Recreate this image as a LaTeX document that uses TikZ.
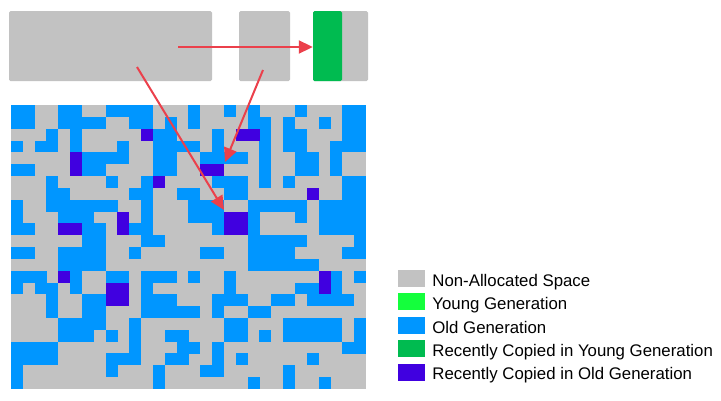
\documentclass[tikz,border=0pt]{standalone}
\usepackage{fontspec}
\setmainfont{Liberation Sans}
\usepackage{tikz}
\usetikzlibrary{arrows.meta}
\usetikzlibrary{positioning}
\definecolor{freegray}{RGB}{194,194,194}
\definecolor{youngcol}{RGB}{20,255,60}
\definecolor{oldcol}{RGB}{0,150,255}
\definecolor{copyyoung}{RGB}{0,187,80}
\definecolor{copyold}{RGB}{64,0,224}
\definecolor{arrowred}{RGB}{235,64,75}
% one heap cell: colour, column, row
\newcommand{\heapcell}[3]{\fill[#1] (11+#2*11.833,105+#3*11.833) rectangle ++(11.9,11.9);}

\begin{document}
\begin{tikzpicture}[x=1pt,y=-1pt]
\tikzset{>={Triangle[width=13pt,length=14pt]}}
\tikzstyle{block}=[rectangle, fill=freegray, rounded corners=1.5pt, inner sep=0pt, minimum height=70pt]
\tikzstyle{legbox}=[rectangle, inner sep=0pt, minimum width=27pt, minimum height=17pt]
\tikzstyle{legtext}=[anchor=base west, inner sep=0pt, font=\fontsize{16.8}{20}\selectfont]
\tikzstyle{redline}=[->, draw=arrowred, fill=arrowred, line width=2pt]
\useasboundingbox (0,0) rectangle (721,400);

% top blocks
\node[block, minimum width=203pt](b1) at (110.5,46){};
\node[block, minimum width=51pt](b2) at (264.5,46){};
\node[block, minimum width=55pt](b3) at (340.5,46){};
\node[block, fill=copyyoung, minimum width=29pt](y3) at (327.5,46){};

% heap
\fill[freegray] (11,105) rectangle (366,389);
\foreach \c in {0,1,4,5,8,9,10,11,15,18,20,24,28,29} {\heapcell{oldcol}{\c}{0}}
\foreach \c in {0,1,4,5,6,7,10,11,13,15,20,21,23,26,28,29} {\heapcell{oldcol}{\c}{1}}
\foreach \c in {3,5,12,13,17,21,23,24,28,29} {\heapcell{oldcol}{\c}{2}}
\foreach \c in {0,2,3,5,9,12,13,14,15,17,21,23,24,27,28,29} {\heapcell{oldcol}{\c}{3}}
\foreach \c in {6,7,8,9,12,13,16,17,18,19,21,24,25,27} {\heapcell{oldcol}{\c}{4}}
\foreach \c in {0,1,6,7,12,13,21,24,25,27} {\heapcell{oldcol}{\c}{5}}
\foreach \c in {3,8,11,17,18,19,21,23,28,29} {\heapcell{oldcol}{\c}{6}}
\foreach \c in {3,4,10,11,14,15,18,19,28,29} {\heapcell{oldcol}{\c}{7}}
\foreach \c in {0,3,4,5,6,7,8,11,15,16,17,20,21,22,23,24,26,27,28,29} {\heapcell{oldcol}{\c}{8}}
\foreach \c in {0,4,5,6,11,15,16,17,20,24,26,27,28,29} {\heapcell{oldcol}{\c}{9}}
\foreach \c in {0,1,6,7,10,11,17,20,26,27,28,29} {\heapcell{oldcol}{\c}{10}}
\foreach \c in {6,7,11,12,20,21,22,23,24,29} {\heapcell{oldcol}{\c}{11}}
\foreach \c in {0,1,4,5,6,7,10,16,17,20,21,22,23,28,29} {\heapcell{oldcol}{\c}{12}}
\foreach \c in {4,5,6,7,20,21,22,23,24,25} {\heapcell{oldcol}{\c}{13}}
\foreach \c in {0,1,2,5,8,9,11,12,13,15,18,27,29} {\heapcell{oldcol}{\c}{14}}
\foreach \c in {0,2,3,5,11,18,24,25,27} {\heapcell{oldcol}{\c}{15}}
\foreach \c in {3,6,7,11,12,13,17,18,19,22,23,25,26,27,28} {\heapcell{oldcol}{\c}{16}}
\foreach \c in {3,6,7,11,12,13,14,15,17,20,21} {\heapcell{oldcol}{\c}{17}}
\foreach \c in {4,5,6,7,10,18,19,23,24,25,26,27,29} {\heapcell{oldcol}{\c}{18}}
\foreach \c in {4,5,6,8,10,13,14,18,19,21,23,24,25,26,27,29} {\heapcell{oldcol}{\c}{19}}
\foreach \c in {0,1,2,3,10,14,15,17,28,29} {\heapcell{oldcol}{\c}{20}}
\foreach \c in {0,1,2,3,8,9,10,13,14,17,19,25} {\heapcell{oldcol}{\c}{21}}
\foreach \c in {0,8,12,16,17,23} {\heapcell{oldcol}{\c}{22}}
\foreach \c in {0,12,20,23,26} {\heapcell{oldcol}{\c}{23}}
\foreach \c/\r in {11/2,19/2,20/2,5/4,5/5,16/5,17/5,12/6,25/7,9/9,18/9,19/9,4/10,5/10,9/10,18/10,19/10,4/14,26/14,8/15,9/15,26/15,8/16,9/16} {\heapcell{copyold}{\c}{\r}}

% arrows
\coordinate (s1) at (178,47);
\coordinate (s2) at (137,67);
\coordinate (t2) at (224,210);
\coordinate (s3) at (263,70);
\coordinate (t3) at (225,162);
\draw[redline] (s1) -- (s1 -| y3.west);
\draw[redline] (s2) -- (t2);
\draw[redline] (s3) -- (t3);

% legend
\node[legbox, fill=freegray](l1) at (411.5,278.5){};
\node[legbox, fill=youngcol, below=6pt of l1](l2){};
\node[legbox, fill=oldcol, below=6pt of l2](l3){};
\node[legbox, fill=copyyoung, below=6pt of l3](l4){};
\node[legbox, fill=copyold, below=6pt of l4](l5){};
\node[legtext](n1) at ([xshift=7pt,yshift=1pt]l1.south east){Non-Allocated Space};
\node[legtext](n2) at ([xshift=7pt,yshift=1pt]l2.south east){Young Generation};
\node[legtext](n3) at ([xshift=7pt,yshift=1pt]l3.south east){Old Generation};
\node[legtext](n4) at ([xshift=7pt,yshift=1pt]l4.south east){Recently Copied in Young Generation};
\node[legtext](n5) at ([xshift=7pt,yshift=1pt]l5.south east){Recently Copied in Old Generation};
\end{tikzpicture}
\end{document}
